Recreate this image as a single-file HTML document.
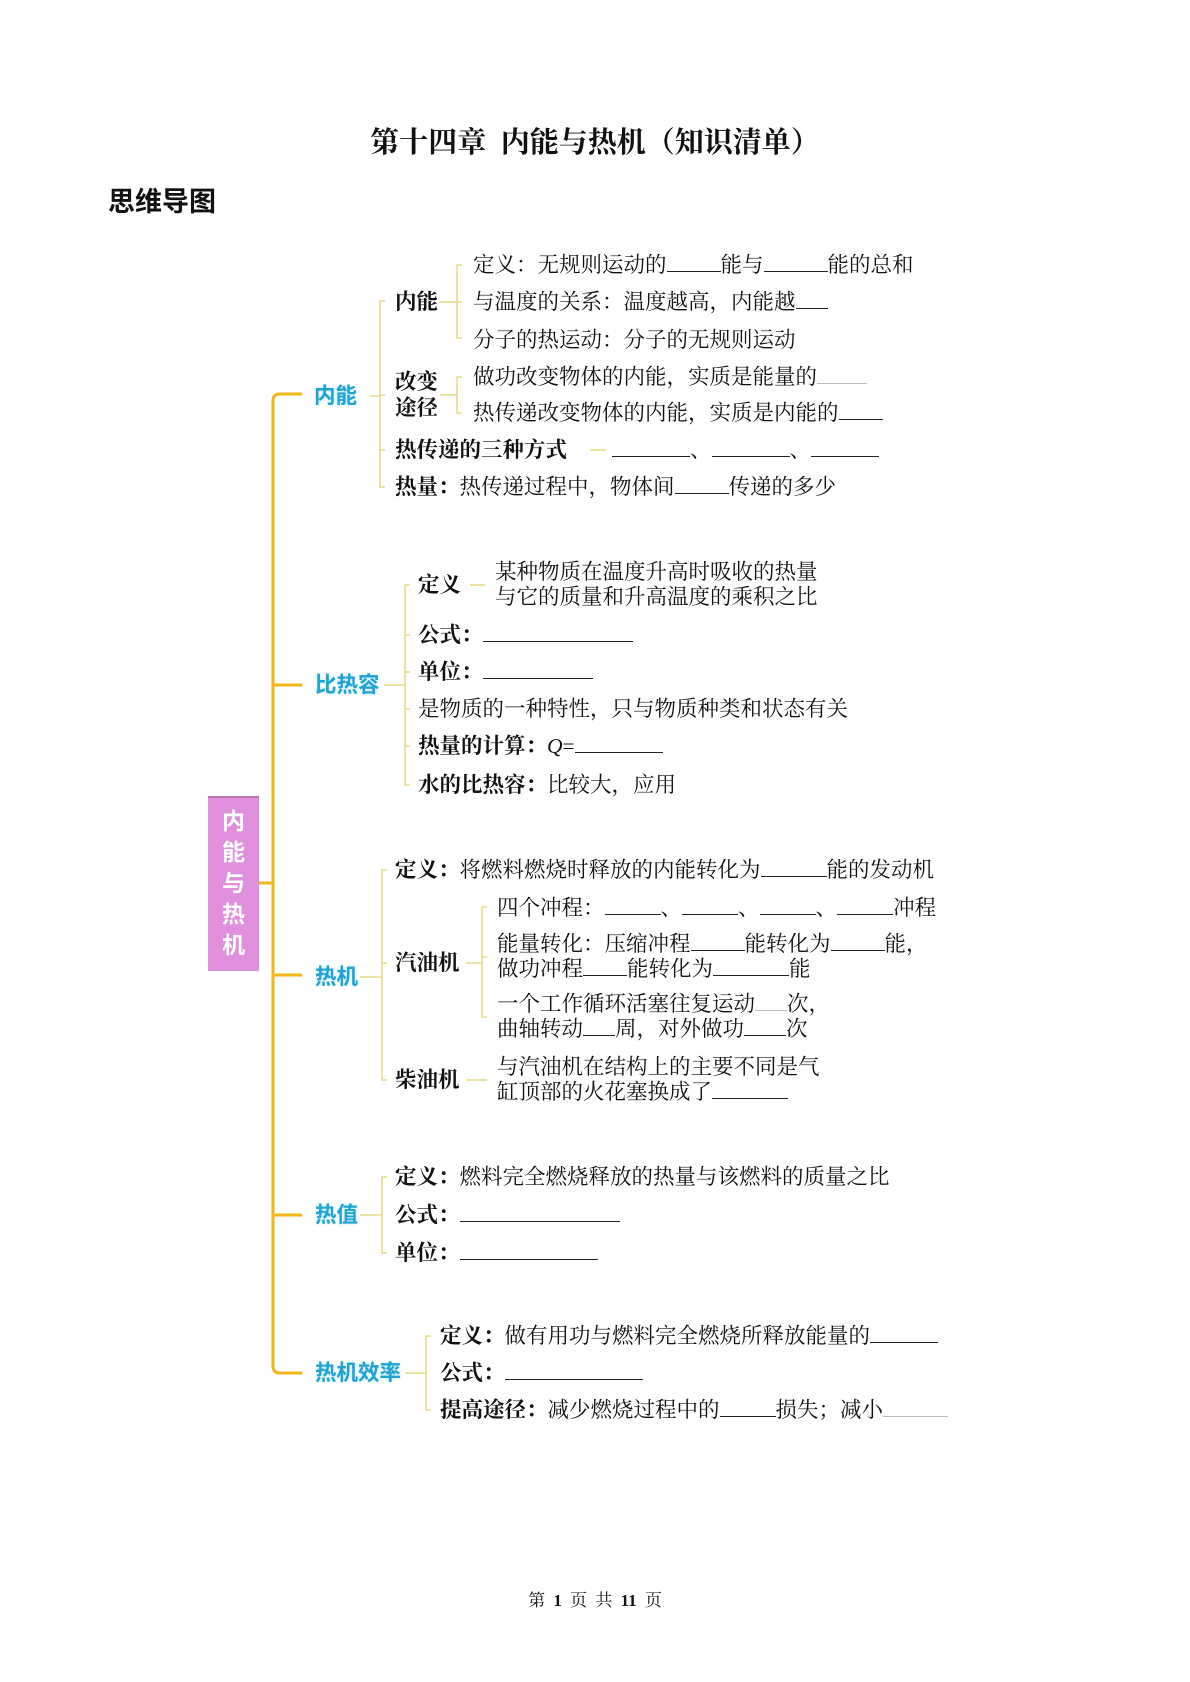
<!DOCTYPE html>
<html><head><meta charset="utf-8">
<style>
body{margin:0;background:#fff;}
#p{position:relative;width:1190px;height:1682px;overflow:hidden;background:#fff;}
.t{position:absolute;white-space:nowrap;font-family:"Liberation Serif","Noto Serif CJK SC",serif;font-size:21.5px;line-height:26px;color:#111;}
.b{font-weight:bold;}
.l1{position:absolute;white-space:nowrap;font-family:"Liberation Sans","Noto Sans CJK SC",sans-serif;font-weight:bold;font-size:21.5px;line-height:26px;color:#1fa3d4;text-shadow:0 0 3px #bfe9f7;}
.u{display:inline-block;border-bottom:1px solid #222;height:18px;vertical-align:baseline;}
.g{border-bottom-color:#bbb;}
</style></head><body><div id="p">

<div class="t b" style="left:0;width:1190px;text-align:center;top:126px;font-size:29px;line-height:34px;">第十四章&nbsp; 内能与热机（知识清单）</div>
<div class="t b" style="left:108px;top:186px;font-size:27px;line-height:32px;font-family:'Liberation Sans','Noto Sans CJK SC',sans-serif;">思维导图</div>

<svg style="position:absolute;left:0;top:0" width="1190" height="1682">
<g stroke="#f3b617" stroke-width="3" fill="none">
<path d="M302 394 H280 Q273 394 273 401 V1366 Q273 1373 280 1373 H302"/>
<path d="M273 685 H302 M273 975 H302 M273 1215 H302 M259 883 H273"/>
</g>
<g stroke="#e6dc86" stroke-width="1.6" fill="none">
<path d="M370 396 H380 M385 301 H380 V487 H385 M380 395 H385 M380 450 H385"/>
<path d="M440 302 H457 M462 265 H457 V338 H462 M457 302 H462"/>
<path d="M440 395 H457 M462 377 H457 V413 H462"/>
<path d="M590 450 H606"/>
<path d="M384 685 H405 M410 585 H405 V785 H410 M405 635 H410 M405 672 H410 M405 709 H410 M405 746 H410"/>
<path d="M470 585 H485"/>
<path d="M360 977 H382 M387 870 H382 V1080 H387 M382 963 H387"/>
<path d="M466 963 H482 M487 907 H482 V1017 H487 M482 957 H487"/>
<path d="M466 1080 H487"/>
<path d="M360 1215 H382 M387 1177 H382 V1253 H387"/>
<path d="M405 1373 H426 M431 1336 H426 V1410 H431"/>
</g>
</svg>

<div style="position:absolute;left:208px;top:796px;width:51px;height:175px;background:#e08fdc;border-top:2px solid #b878b4;box-sizing:border-box;"></div>
<div style="position:absolute;left:208px;top:806px;width:51px;font-family:'Liberation Sans','Noto Sans CJK SC',sans-serif;font-weight:bold;font-size:23px;line-height:31px;color:#fff;text-align:center;">内<br>能<br>与<br>热<br>机</div>

<div class="l1" style="left:314px;top:383px;">内能</div>
<div class="l1" style="left:315px;top:672px;">比热容</div>
<div class="l1" style="left:315px;top:964px;">热机</div>
<div class="l1" style="left:315px;top:1202px;">热值</div>
<div class="l1" style="left:315px;top:1360px;">热机效率</div>

<div class="t b" style="left:395px;top:289px;">内能</div>
<div class="t b" style="left:395px;top:369px;line-height:26px;">改变<br>途径</div>
<div class="t b" style="left:395px;top:437px;">热传递的三种方式</div>
<div class="t" style="left:395px;top:474px;"><b>热量：</b>热传递过程中，物体间<span class="u" style="width:54px"></span>传递的多少</div>
<div class="t" style="left:473px;top:252px;">定义：无规则运动的<span class="u" style="width:54px"></span>能与<span class="u" style="width:64px"></span>能的总和</div>
<div class="t" style="left:473px;top:289px;">与温度的关系：温度越高，内能越<span class="u" style="width:32px"></span></div>
<div class="t" style="left:473px;top:327px;">分子的热运动：分子的无规则运动</div>
<div class="t" style="left:473px;top:364px;">做功改变物体的内能，实质是能量的<span class="u g" style="width:50px"></span></div>
<div class="t" style="left:473px;top:400px;">热传递改变物体的内能，实质是内能的<span class="u" style="width:44px"></span></div>
<div class="t" style="left:612px;top:437px;"><span class="u" style="width:78px"></span>、<span class="u" style="width:78px"></span>、<span class="u" style="width:68px"></span></div>

<div class="t b" style="left:418px;top:572px;">定义</div>
<div class="t" style="left:495px;top:560px;line-height:25px;">某种物质在温度升高时吸收的热量<br>与它的质量和升高温度的乘积之比</div>
<div class="t" style="left:418px;top:622px;"><b>公式：</b><span class="u" style="width:150px"></span></div>
<div class="t" style="left:418px;top:659px;"><b>单位：</b><span class="u" style="width:110px"></span></div>
<div class="t" style="left:418px;top:696px;">是物质的一种特性，只与物质种类和状态有关</div>
<div class="t" style="left:418px;top:733px;"><b>热量的计算：</b><i>Q</i>=<span class="u" style="width:88px"></span></div>
<div class="t" style="left:418px;top:772px;"><b>水的比热容：</b>比较大，应用</div>

<div class="t" style="left:395px;top:857px;"><b>定义：</b>将燃料燃烧时释放的内能转化为<span class="u" style="width:66px"></span>能的发动机</div>
<div class="t b" style="left:395px;top:950px;">汽油机</div>
<div class="t b" style="left:395px;top:1067px;">柴油机</div>
<div class="t" style="left:497px;top:895px;">四个冲程：<span class="u" style="width:56px"></span>、<span class="u" style="width:56px"></span>、<span class="u" style="width:56px"></span>、<span class="u" style="width:56px"></span>冲程</div>
<div class="t" style="left:497px;top:932px;line-height:25px;">能量转化：压缩冲程<span class="u" style="width:54px"></span>能转化为<span class="u" style="width:54px"></span>能，<br>做功冲程<span class="u" style="width:44px"></span>能转化为<span class="u" style="width:76px"></span>能</div>
<div class="t" style="left:497px;top:992px;line-height:25px;">一个工作循环活塞往复运动<span class="u g" style="width:32px"></span>次，<br>曲轴转动<span class="u" style="width:32px"></span>周，对外做功<span class="u" style="width:42px"></span>次</div>
<div class="t" style="left:497px;top:1055px;line-height:25px;">与汽油机在结构上的主要不同是气<br>缸顶部的火花塞换成了<span class="u" style="width:76px"></span></div>

<div class="t" style="left:395px;top:1164px;"><b>定义：</b>燃料完全燃烧释放的热量与该燃料的质量之比</div>
<div class="t" style="left:395px;top:1202px;"><b>公式：</b><span class="u" style="width:160px"></span></div>
<div class="t" style="left:395px;top:1240px;"><b>单位：</b><span class="u" style="width:138px"></span></div>

<div class="t" style="left:440px;top:1323px;"><b>定义：</b>做有用功与燃料完全燃烧所释放能量的<span class="u" style="width:68px"></span></div>
<div class="t" style="left:440px;top:1360px;"><b>公式：</b><span class="u" style="width:138px"></span></div>
<div class="t" style="left:440px;top:1397px;"><b>提高途径：</b>减少燃烧过程中的<span class="u" style="width:56px"></span>损失；减小<span class="u g" style="width:65px"></span></div>

<div class="t" style="left:0;width:1190px;text-align:center;top:1590px;font-size:17px;line-height:22px;word-spacing:4px;">第 <b>1</b> 页 共 <b>11</b> 页</div>
</div></body></html>
